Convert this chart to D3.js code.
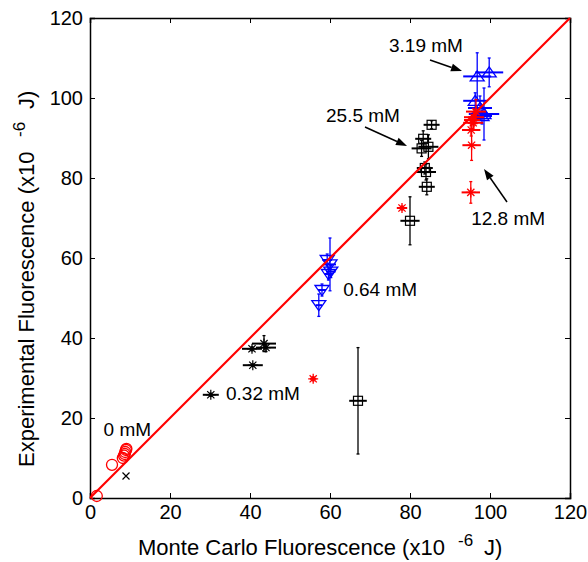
<!DOCTYPE html>
<html>
<head>
<meta charset="utf-8">
<script src="https://cdn.jsdelivr.net/npm/d3@7"></script>
<style>
  body { margin: 0; background: #fff; }
  svg { display: block; font-family: "Liberation Sans", Arial, sans-serif; }
</style>
</head>
<body>
<svg width="588" height="562"></svg>
<script>
// axis ticks
var xTicks = [0, 20, 40, 60, 80, 100, 120];
var yTicks = [0, 20, 40, 60, 80, 100, 120];

// 0 mM (red circles)
var zeroX = [1.7, 5.5, 8.2, 8.5, 8.7, 8.8, 9.0, 9.1];
var zeroY = [0.5, 8.3, 10.0, 10.6, 11.0, 11.5, 12.0, 12.3];

// single black x marker
var blankX = [9.0];
var blankY = [5.5];

// 0.32 mM (black asterisks)
var m032X    = [30.2, 40.5, 43.5, 44.0, 40.7];
var m032Y    = [25.8, 37.3, 38.6, 37.6, 33.2];
var m032Xerr = [2.0, 2.5, 3.0, 2.5, 2.5];
var m032Yerr = [0.4, 0.5, 2.0, 1.0, 0.3];

// 0.64 mM (blue down triangles)
var m064X    = [59.3, 60.0, 60.2, 59.6, 58.0, 57.2];
var m064Y    = [59.5, 58.4, 56.6, 56.0, 52.0, 48.2];
var m064Xerr = [1.2, 1.5, 1.2, 1.0, 1.0, 0.8];
var m064Yerr = [1.5, 6.6, 1.5, 1.5, 1.5, 2.8];

// 3.19 mM (blue up triangles)
var m319X    = [96.8, 99.8, 96.3, 97.5, 98.5, 98.0];
var m319Y    = [105.4, 106.4, 99.3, 97.5, 96.0, 95.5];
var m319Xerr = [3.5, 3.5, 3.0, 3.0, 3.8, 2.5];
var m319Yerr = [5.9, 3.6, 2.0, 3.0, 6.5, 2.0];

// 12.8 mM (red asterisks)
var m128X    = [95.2, 95.4, 95.3, 95.8, 96.0, 96.5, 95.5, 78.0, 55.8];
var m128Y    = [76.4, 88.2, 92.0, 93.8, 95.2, 96.6, 94.5, 72.5, 29.8];
var m128Xerr = [2.3, 2.3, 2.3, 2.5, 2.5, 2.5, 2.0, 1.3, 0.8];
var m128Yerr = [2.7, 3.8, 1.5, 1.5, 2.0, 3.0, 1.0, 0.5, 0.5];

// 25.5 mM (black squares)
var m255X    = [85.4, 83.3, 82.9, 84.6, 83.7, 84.0, 84.2, 80.0, 67.0];
var m255Y    = [93.3, 89.8, 87.4, 87.8, 82.5, 81.5, 77.8, 69.3, 24.3];
var m255Xerr = [2.0, 2.0, 2.5, 2.5, 2.0, 2.5, 2.0, 2.4, 2.2];
var m255Yerr = [1.0, 2.0, 2.0, 3.0, 1.5, 2.0, 2.0, 6.0, 13.3];

// labels with arrows (data units)
var labelText = ["3.19 mM", "25.5 mM", "12.8 mM", "0.64 mM", "0.32 mM", "0 mM"];
var labelX    = [74.75, 59.0, 95.3, 63.3, 34.0, 3.4];
var labelY    = [111.5, 94.1, 68.3, 50.6, 24.5, 15.5];
var arrowFrom = [[85, 109.5], [68.75, 92.75], [104.25, 74]];
var arrowTo   = [[93, 106.75], [79.25, 88], [98.5, 82.25]];

(function() {
    var svg = d3.select("svg");
    var left = 90, right = 570, top = 18, bottom = 498;

    var x = d3.scaleLinear().domain([0, 120]).range([left, right]);
    var y = d3.scaleLinear().domain([0, 120]).range([bottom, top]);

    var zip = function(xs, ys, xe, ye) {
        return xs.map(function(v, i) {
            return {x: v, y: ys[i], xe: xe ? xe[i] : 0, ye: ye ? ye[i] : 0};
        });
    };

    //Axes
    svg.append("g")
        .attr("transform", "translate(0," + bottom + ")")
        .call(d3.axisBottom(x).tickValues(xTicks).tickSize(-5).tickPadding(7).tickFormat(d3.format("d")));
    svg.append("g")
        .attr("transform", "translate(0," + top + ")")
        .call(d3.axisTop(x).tickValues(xTicks).tickSize(-5).tickFormat(""));
    svg.append("g")
        .attr("transform", "translate(" + left + ",0)")
        .call(d3.axisLeft(y).tickValues(yTicks).tickSize(-5).tickPadding(7).tickFormat(d3.format("d")));
    svg.append("g")
        .attr("transform", "translate(" + right + ",0)")
        .call(d3.axisRight(y).tickValues(yTicks).tickSize(-5).tickFormat(""));

    svg.selectAll(".domain").attr("stroke", "#000").attr("stroke-width", 1.5);
    svg.selectAll(".tick line").attr("stroke", "#000").attr("stroke-width", 1);
    svg.selectAll(".tick text").attr("fill", "#000").attr("font-size", 20)
        .attr("font-family", "'Liberation Sans', Arial, sans-serif");

    //Axis labels
    var xl = svg.append("text")
        .attr("x", 138).attr("y", 555)
        .attr("font-size", 22);
    xl.append("tspan").text("Monte Carlo Fluorescence (x10");
    xl.append("tspan").attr("x", 458).attr("font-size", 17).attr("dy", -9).text("-6");
    xl.append("tspan").attr("x", 484).attr("dy", 9).text("J)");

    var yl = svg.append("text")
        .attr("transform", "translate(33.5,467) rotate(-90)")
        .attr("font-size", 22);
    yl.append("tspan").attr("x", 0).text("Experimental Fluorescence (x10");
    yl.append("tspan").attr("x", 330).attr("font-size", 17).attr("dy", -9).text("-6");
    yl.append("tspan").attr("x", 358).attr("dy", 9).text("J)");

    var plot = svg.append("g");

    function errorBars(data, color) {
        var g = plot.append("g").attr("stroke", color).attr("fill", "none");
        data.forEach(function(d) {
            if (d.xe > 0) {
                g.append("line")
                    .attr("x1", x(d.x - d.xe)).attr("x2", x(d.x + d.xe))
                    .attr("y1", y(d.y)).attr("y2", y(d.y))
                    .attr("stroke-width", 2);
            }
            if (d.ye > 0) {
                g.append("line")
                    .attr("x1", x(d.x)).attr("x2", x(d.x))
                    .attr("y1", y(d.y - d.ye)).attr("y2", y(d.y + d.ye))
                    .attr("stroke-width", 1.3);
                [d.y - d.ye, d.y + d.ye].forEach(function(v) {
                    g.append("line")
                        .attr("x1", x(d.x) - 1.5).attr("x2", x(d.x) + 1.5)
                        .attr("y1", y(v)).attr("y2", y(v))
                        .attr("stroke-width", 1.3);
                });
            }
        });
    }

    var shapes = {
        circle: function(g) { g.append("circle").attr("r", 5.5); },
        square: function(g) { g.append("rect").attr("x", -4.5).attr("y", -4.5).attr("width", 9).attr("height", 9); },
        down: function(g) { g.append("path").attr("d", "M-7,-4.5L7,-4.5L0,5.5Z"); },
        up: function(g) { g.append("path").attr("d", "M-7,4.5L7,4.5L0,-5.5Z"); },
        star: function(g) { g.append("path").attr("d", "M-5,0L5,0M0,-5L0,5M-3.6,-3.6L3.6,3.6M-3.6,3.6L3.6,-3.6"); },
        cross: function(g) { g.append("path").attr("d", "M-3.5,-3.5L3.5,3.5M-3.5,3.5L3.5,-3.5"); }
    };

    function markers(data, shape, color, sw) {
        plot.append("g")
          .selectAll("g")
          .data(data)
          .enter().append("g")
            .attr("transform", function(d) { return "translate(" + x(d.x) + "," + y(d.y) + ")"; })
            .attr("fill", "none")
            .attr("stroke", color)
            .attr("stroke-width", sw)
            .each(function() { shapes[shape](d3.select(this)); });
    }

    var series = [
        {data: zip(zeroX, zeroY), shape: "circle", color: "#ff0000", sw: 1.3},
        {data: zip(blankX, blankY), shape: "cross", color: "#000", sw: 1.2},
        {data: zip(m032X, m032Y, m032Xerr, m032Yerr), shape: "star", color: "#000", sw: 1.2},
        {data: zip(m064X, m064Y, m064Xerr, m064Yerr), shape: "down", color: "#0000ff", sw: 1.3},
        {data: zip(m255X, m255Y, m255Xerr, m255Yerr), shape: "square", color: "#000", sw: 1.2},
        {data: zip(m319X, m319Y, m319Xerr, m319Yerr), shape: "up", color: "#0000ff", sw: 1.3},
        {data: zip(m128X, m128Y, m128Xerr, m128Yerr), shape: "star", color: "#ff0000", sw: 1.3}
    ];

    series.forEach(function(s) {
        errorBars(s.data, s.color);
        markers(s.data, s.shape, s.color, s.sw);
    });

    //y = x reference line
    plot.append("line")
        .attr("x1", x(0)).attr("y1", y(0))
        .attr("x2", x(120)).attr("y2", y(120))
        .attr("stroke", "#ff0000")
        .attr("stroke-width", 2.2);

    //Labels
    labelText.forEach(function(t, i) {
        svg.append("text")
            .attr("x", x(labelX[i])).attr("y", y(labelY[i]))
            .attr("font-size", 19)
            .attr("fill", "#000")
            .text(t);
    });

    //Arrows
    arrowFrom.forEach(function(f, i) {
        var x1 = x(f[0]), y1 = y(f[1]), x2 = x(arrowTo[i][0]), y2 = y(arrowTo[i][1]);
        var a = Math.atan2(y2 - y1, x2 - x1);
        var len = 11, w = 4;
        var bx = x2 - len * Math.cos(a), by = y2 - len * Math.sin(a);
        svg.append("line")
            .attr("x1", x1).attr("y1", y1).attr("x2", bx).attr("y2", by)
            .attr("stroke", "#000").attr("stroke-width", 1.5);
        svg.append("path")
            .attr("d", "M" + x2 + "," + y2 +
                "L" + (bx + w * Math.sin(a)) + "," + (by - w * Math.cos(a)) +
                "L" + (bx - w * Math.sin(a)) + "," + (by + w * Math.cos(a)) + "Z")
            .attr("fill", "#000");
    });
})();
</script>
</body>
</html>
